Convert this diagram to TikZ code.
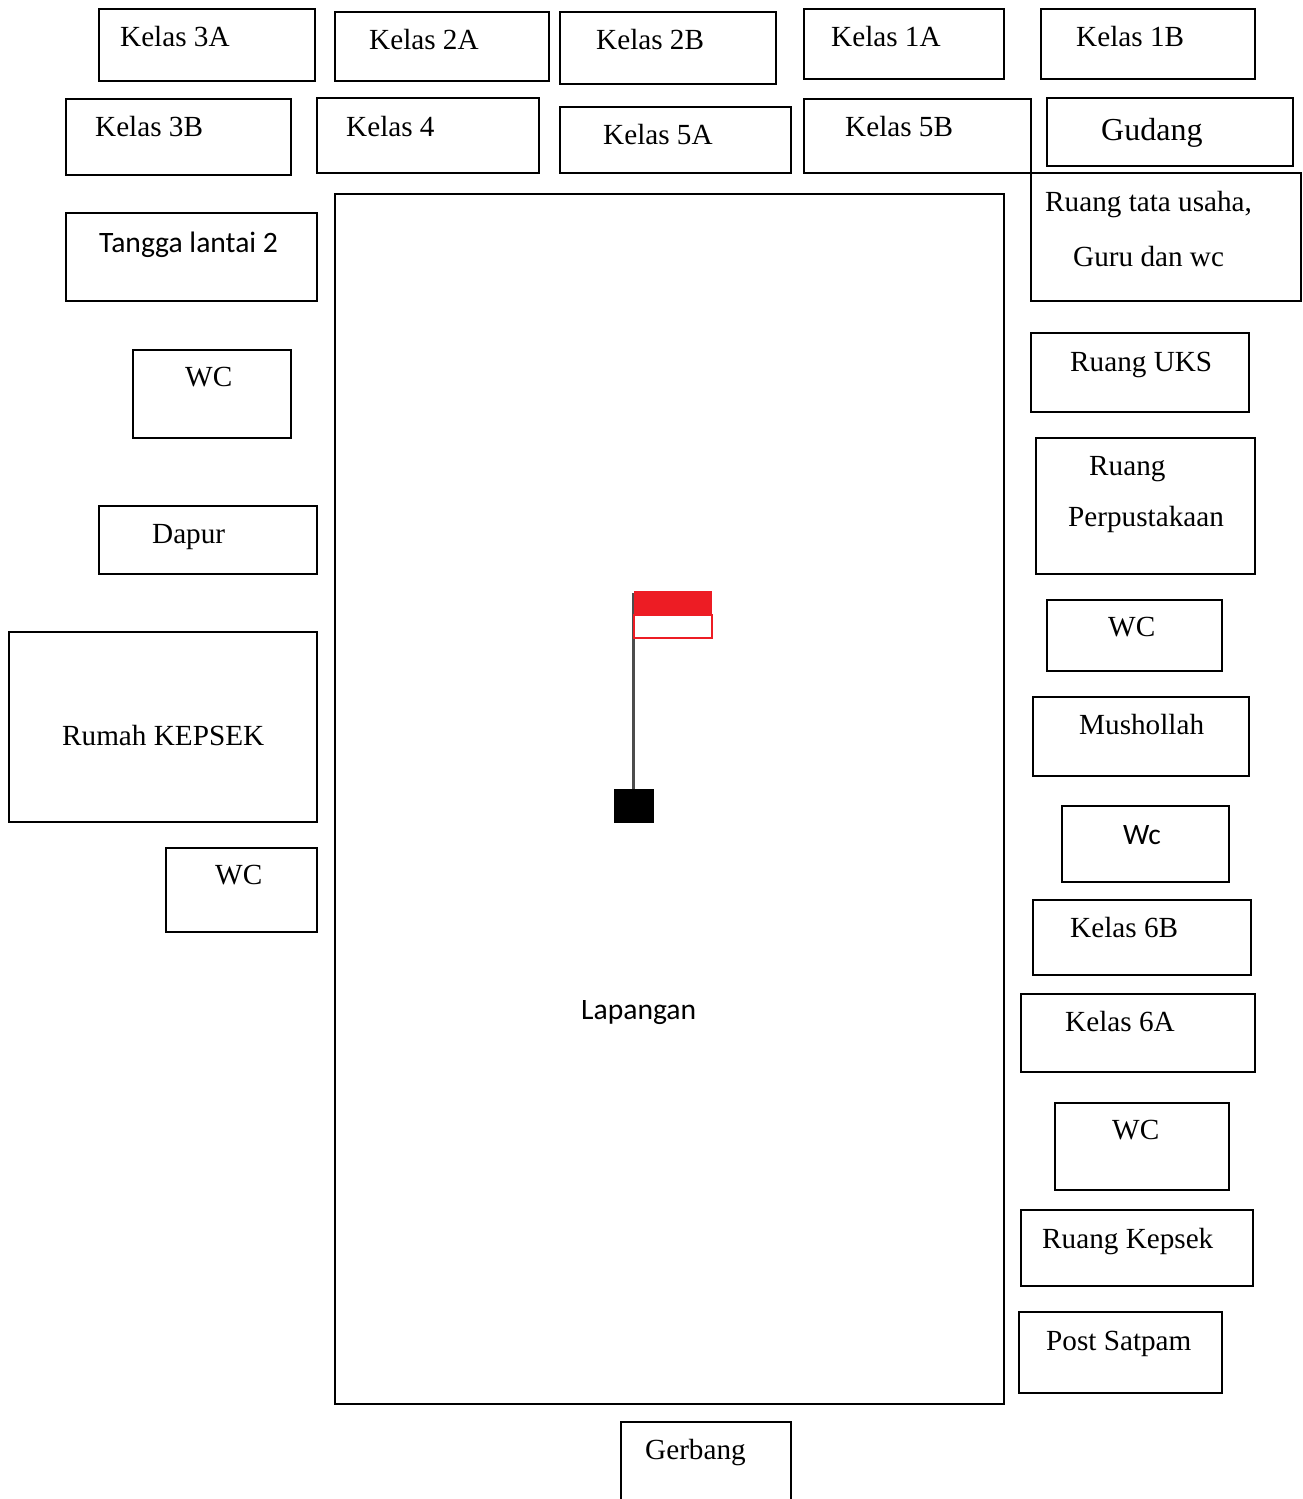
\documentclass[tikz,border=0pt]{standalone}
\usepackage{fontspec}
\setmainfont{Liberation Serif}
\newfontfamily\calib{Carlito}
\definecolor{flagred}{RGB}{237,28,36}
\begin{document}
\begin{tikzpicture}[x=1pt,y=-1pt,
  room/.style={draw=black,line width=1.6pt},
  lbl/.style={anchor=base west,inner sep=0pt,font=\fontsize{29.2}{33}\selectfont},
  slbl/.style={anchor=base west,inner sep=0pt,font=\calib\fontsize{29.6}{33}\selectfont},
  big/.style={anchor=base west,inner sep=0pt,font=\fontsize{32}{36}\selectfont}]
\useasboundingbox[fill=white] (0,0) rectangle (1302,1499);
% top row
\draw[room] (99,9) rectangle (315,81);
\node[lbl] (k3a) at (120,46) {Kelas 3A};
\draw[room] (335,12) rectangle (549,81);
\node[lbl] (k2a) at (369,49) {Kelas 2A};
\draw[room] (560,12) rectangle (776,84);
\node[lbl] (k2b) at (596,49) {Kelas 2B};
\draw[room] (804,9) rectangle (1004,79);
\node[lbl] (k1a) at (831,46) {Kelas 1A};
\draw[room] (1041,9) rectangle (1255,79);
\node[lbl] (k1b) at (1076,46) {Kelas 1B};
% second row
\draw[room] (66,99) rectangle (291,175);
\node[lbl] (k3b) at (95,136) {Kelas 3B};
\draw[room] (317,98) rectangle (539,173);
\node[lbl] (k4) at (346,136) {Kelas 4};
\draw[room] (560,107) rectangle (791,173);
\node[lbl] (k5a) at (603,144) {Kelas 5A};
\draw[room] (804,99) rectangle (1031,173);
\node[lbl] (k5b) at (845,136) {Kelas 5B};
\draw[room] (1047,98) rectangle (1293,166);
\node[big] (gud) at (1101,140) {Gudang};
\draw[room] (1031,173) rectangle (1301,301);
\node[lbl] (tu1) at (1045,211) {Ruang tata usaha,};
\node[lbl] (tu2) at (1073,266) {Guru dan wc};
% left column
\draw[room] (66,213) rectangle (317,301);
\node[slbl] (tangga) at (99,252) {Tangga lantai 2};
\draw[room] (133,350) rectangle (291,438);
\node[lbl] (wc1) at (185,386) {WC};
\draw[room] (99,506) rectangle (317,574);
\node[lbl] (dapur) at (152,543) {Dapur};
\draw[room] (9,632) rectangle (317,822);
\node[lbl] (rumah) at (62,745) {Rumah KEPSEK};
\draw[room] (166,848) rectangle (317,932);
\node[lbl] (wc2) at (215,884) {WC};
% field
\draw[room] (335,194) rectangle (1004,1404);
\node[slbl] (lap) at (581,1019) {Lapangan};
% flag
\draw[gray!60!black,line width=3pt] (633,593) -- (633,792);
\fill[flagred] (634,591) rectangle (712,615);
\draw[flagred,line width=1.8pt] (634,615) rectangle (712,638);
\fill[black] (614,789) rectangle (654,823);
% right column
\draw[room] (1031,333) rectangle (1249,412);
\node[lbl] (uks) at (1070,371) {Ruang UKS};
\draw[room] (1036,438) rectangle (1255,574);
\node[lbl] (per1) at (1089,475) {Ruang};
\node[lbl] (per2) at (1068,526) {Perpustakaan};
\draw[room] (1047,600) rectangle (1222,671);
\node[lbl] (wc3) at (1108,636) {WC};
\draw[room] (1033,697) rectangle (1249,776);
\node[lbl] (mus) at (1079,734) {Mushollah};
\draw[room] (1062,806) rectangle (1229,882);
\node[slbl] (wc4) at (1123,844) {Wc};
\draw[room] (1033,900) rectangle (1251,975);
\node[lbl] (k6b) at (1070,937) {Kelas 6B};
\draw[room] (1021,994) rectangle (1255,1072);
\node[lbl] (k6a) at (1065,1031) {Kelas 6A};
\draw[room] (1055,1103) rectangle (1229,1190);
\node[lbl] (wc5) at (1112,1139) {WC};
\draw[room] (1021,1210) rectangle (1253,1286);
\node[lbl] (kep) at (1042,1248) {Ruang Kepsek};
\draw[room] (1019,1312) rectangle (1222,1393);
\node[lbl] (sat) at (1046,1350) {Post Satpam};
% gate
\draw[room] (621,1515) -- (621,1422) -- (791,1422) -- (791,1515);
\node[lbl] (ger) at (645,1459) {Gerbang};
\end{tikzpicture}
\end{document}
